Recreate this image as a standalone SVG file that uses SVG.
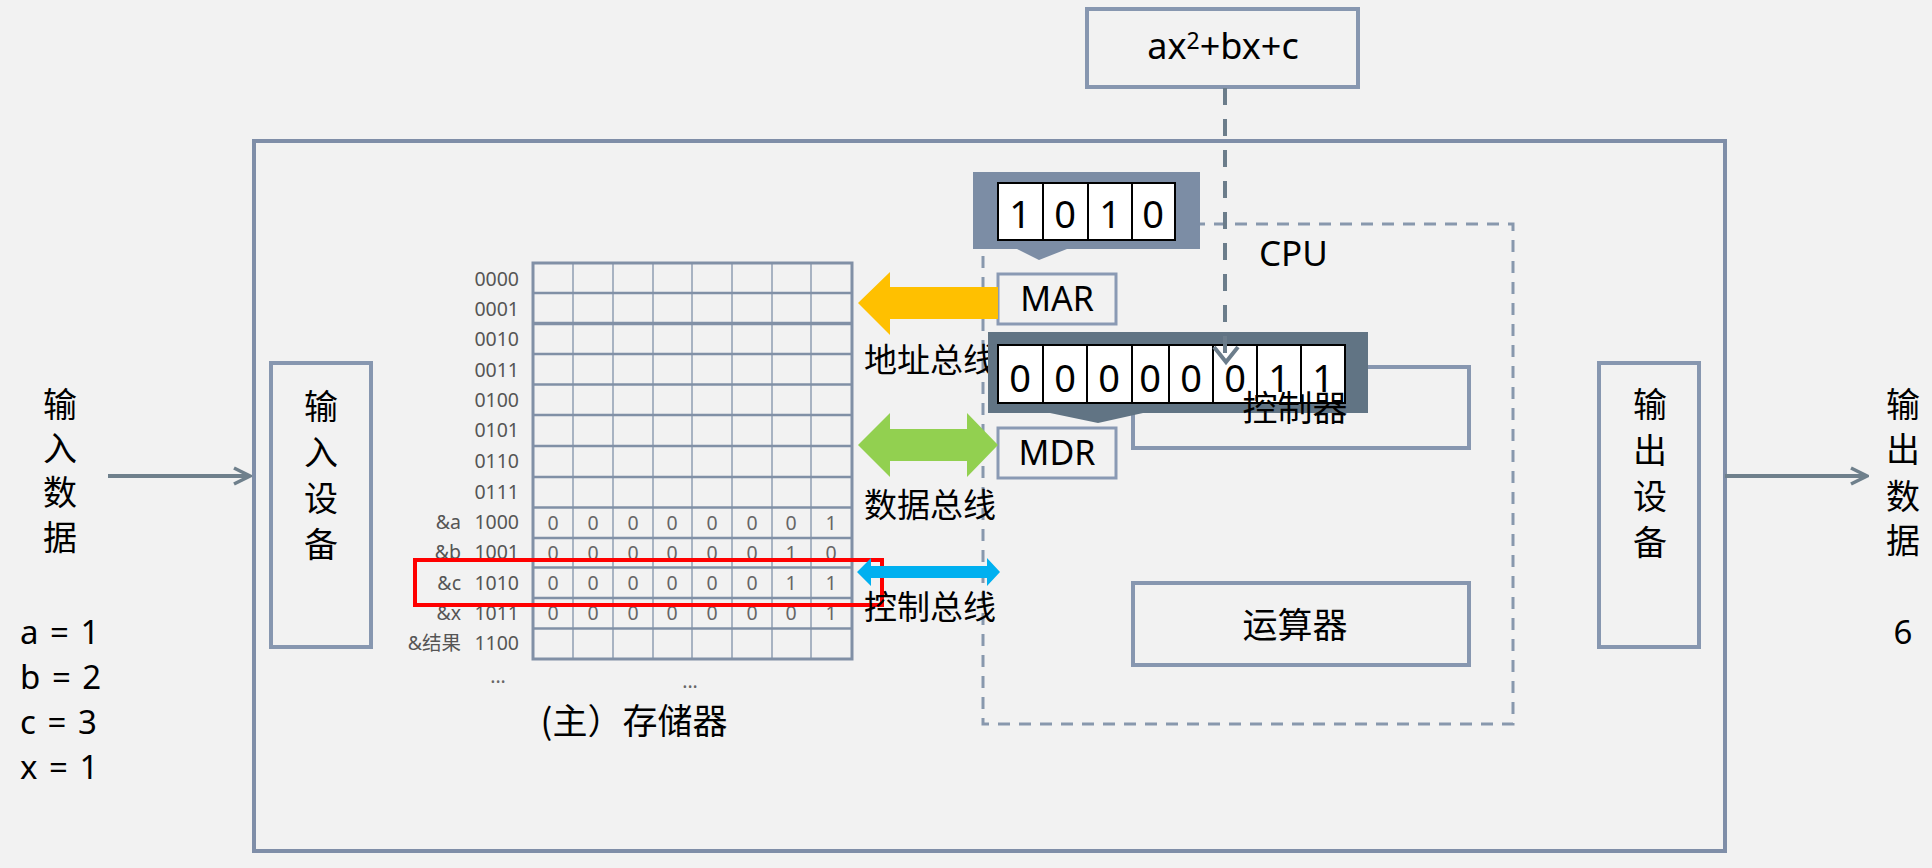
<svg xmlns="http://www.w3.org/2000/svg" width="1932" height="868" viewBox="0 0 1932 868">
<defs>
<style>
.lat{font-family:'Noto Sans','Noto Sans CJK SC',sans-serif;fill:#000}
.cjk{font-family:'Noto Sans CJK SC','Noto Sans',sans-serif;fill:#000}
.addr{font-family:'Noto Sans','Noto Sans CJK SC',sans-serif;font-size:19.5px;fill:#555;text-anchor:end}
.val{font-family:'Noto Sans',sans-serif;font-size:19.5px;fill:#666;text-anchor:middle}
.box{fill:none;stroke:#8797b0;stroke-width:4}
.sbox{fill:none;stroke:#8a9ab4;stroke-width:3}
.cell{fill:#fff;stroke:#000;stroke-width:2}
.celltxt{font-family:'Noto Sans',sans-serif;font-size:38px;fill:#000;text-anchor:middle}
.gh{stroke:#8190a6;stroke-width:2.5}
.gv{stroke:#a8b3c2;stroke-width:2}
.flow{stroke:#6f808c;stroke-width:4;fill:none}
</style>
<marker id="chev" viewBox="0 0 20 20" refX="18" refY="10" markerWidth="5" markerHeight="5" orient="auto" markerUnits="strokeWidth">
<path d="M2,2 L18,10 L2,18" fill="none" stroke="#6f808c" stroke-width="3.5"/>
</marker>
</defs>
<rect x="0" y="0" width="1932" height="868" fill="#f2f2f2"/>

<g id="computer">
<rect x="254" y="141" width="1471" height="710" fill="none" stroke="#7f8ea8" stroke-width="4"/>
</g>

<g id="input-device">
<rect x="271" y="363" width="100" height="284" class="box"/>
<text class="cjk" font-size="34" text-anchor="middle"><tspan x="321" y="419">输</tspan><tspan x="321" y="465">入</tspan><tspan x="321" y="511">设</tspan><tspan x="321" y="557">备</tspan></text>
</g>

<g id="output-device">
<rect x="1599" y="363" width="100" height="284" class="box"/>
<text class="cjk" font-size="34" text-anchor="middle"><tspan x="1650" y="417">输</tspan><tspan x="1650" y="463">出</tspan><tspan x="1650" y="509">设</tspan><tspan x="1650" y="555">备</tspan></text>
</g>

<g id="input-data">
<text class="cjk" font-size="34" text-anchor="middle"><tspan x="60" y="417">输</tspan><tspan x="60" y="461">入</tspan><tspan x="60" y="505">数</tspan><tspan x="60" y="550">据</tspan></text>
<text class="lat" font-size="33" word-spacing="3"><tspan x="20" y="644">a = 1</tspan><tspan x="20" y="689">b = 2</tspan><tspan x="20" y="734">c = 3</tspan><tspan x="20" y="779">x = 1</tspan></text>
</g>

<g id="output-data">
<text class="cjk" font-size="34" text-anchor="middle"><tspan x="1903" y="417">输</tspan><tspan x="1903" y="462">出</tspan><tspan x="1903" y="509">数</tspan><tspan x="1903" y="553">据</tspan></text>
<text class="lat" font-size="33" text-anchor="middle" x="1903" y="644">6</text>
</g>

<g id="memory">
<g class="gv">
<line x1="573" y1="263" x2="573" y2="659"/><line x1="613" y1="263" x2="613" y2="659"/><line x1="653" y1="263" x2="653" y2="659"/><line x1="692" y1="263" x2="692" y2="659"/><line x1="732" y1="263" x2="732" y2="659"/><line x1="772" y1="263" x2="772" y2="659"/><line x1="811" y1="263" x2="811" y2="659"/>
</g>
<g class="gh">
<line x1="533" y1="293" x2="852" y2="293"/><line x1="533" y1="323.5" x2="852" y2="323.5" stroke-width="3.5"/><line x1="533" y1="354" x2="852" y2="354"/><line x1="533" y1="384.5" x2="852" y2="384.5"/><line x1="533" y1="415" x2="852" y2="415"/><line x1="533" y1="446" x2="852" y2="446"/><line x1="533" y1="477" x2="852" y2="477"/><line x1="533" y1="507.5" x2="852" y2="507.5"/><line x1="533" y1="538" x2="852" y2="538"/><line x1="533" y1="567.5" x2="852" y2="567.5"/><line x1="533" y1="598" x2="852" y2="598"/><line x1="533" y1="628.5" x2="852" y2="628.5"/>
</g>
<rect x="533" y="263" width="319" height="396" fill="none" stroke="#8190a6" stroke-width="3"/>
<g class="addr">
<text x="519" y="286">0000</text><text x="519" y="316">0001</text><text x="519" y="346">0010</text><text x="519" y="377">0011</text><text x="519" y="407">0100</text><text x="519" y="437">0101</text><text x="519" y="468">0110</text><text x="519" y="499">0111</text><text x="519" y="529">1000</text><text x="519" y="559">1001</text><text x="519" y="590">1010</text><text x="519" y="620">1011</text><text x="519" y="650">1100</text>
<text x="461" y="529">&amp;a</text><text x="461" y="559">&amp;b</text><text x="461" y="590">&amp;c</text><text x="461" y="620">&amp;x</text><text x="461" y="650">&amp;结果</text>
</g>
<g class="val">
<text y="530"><tspan x="553">0</tspan><tspan x="593">0</tspan><tspan x="633">0</tspan><tspan x="672">0</tspan><tspan x="712">0</tspan><tspan x="752">0</tspan><tspan x="791">0</tspan><tspan x="831">1</tspan></text>
<text y="560"><tspan x="553">0</tspan><tspan x="593">0</tspan><tspan x="633">0</tspan><tspan x="672">0</tspan><tspan x="712">0</tspan><tspan x="752">0</tspan><tspan x="791">1</tspan><tspan x="831">0</tspan></text>
<text y="590"><tspan x="553">0</tspan><tspan x="593">0</tspan><tspan x="633">0</tspan><tspan x="672">0</tspan><tspan x="712">0</tspan><tspan x="752">0</tspan><tspan x="791">1</tspan><tspan x="831">1</tspan></text>
<text y="620"><tspan x="553">0</tspan><tspan x="593">0</tspan><tspan x="633">0</tspan><tspan x="672">0</tspan><tspan x="712">0</tspan><tspan x="752">0</tspan><tspan x="791">0</tspan><tspan x="831">1</tspan></text>
</g>
<text class="val" x="498" y="683">...</text>
<text class="val" x="690" y="688">...</text>
<text class="cjk" font-size="35" text-anchor="middle" x="634" y="734">(主）存储器</text>
<rect x="415" y="560" width="467" height="45" fill="none" stroke="#ff0000" stroke-width="4"/>
</g>

<g id="cpu">
<rect x="983" y="224" width="530" height="500" fill="none" stroke="#8898ad" stroke-width="3" stroke-dasharray="12 9"/>
<text class="lat" font-size="35" x="1259" y="266">CPU</text>
</g>

<g id="formula">
<rect x="1087" y="9" width="271" height="78" class="box"/>
<text class="lat" font-size="36" text-anchor="middle" x="1223" y="59">ax<tspan font-size="23" dy="-10">2</tspan><tspan dy="10">+bx+c</tspan></text>
</g>

<g id="mar">
<rect x="998" y="274" width="118" height="50" class="sbox"/>
<text class="lat" font-size="34" text-anchor="middle" x="1057" y="311">MAR</text>
</g>

<g id="mdr">
<rect x="998" y="428" width="118" height="50" class="sbox"/>
<text class="lat" font-size="34" text-anchor="middle" x="1057" y="465">MDR</text>
</g>

<g id="alu">
<rect x="1133" y="583" width="336" height="82" class="box"/>
<text class="cjk" font-size="35" text-anchor="middle" x="1295" y="638">运算器</text>
</g>

<g id="controller">
<rect x="1133" y="367" width="336" height="81" class="box"/>
</g>

<g id="connectors">
<line x1="108" y1="476" x2="250" y2="476" class="flow" marker-end="url(#chev)"/>
<line x1="1725" y1="476" x2="1867" y2="476" class="flow" marker-end="url(#chev)"/>
<polygon points="858,303 890,272 890,287 998,287 998,319 890,319 890,335" fill="#ffc000"/>
<polygon points="858,445 890,413 890,429 967,429 967,413 998,445 967,477 967,461 890,461 890,477" fill="#92d050"/>
<polygon points="857,572 871,558 871,566 987,566 987,558 1000,572 987,586 987,578 871,578 871,586" fill="#00b0f0"/>
</g>

<g id="bus-labels">
<text class="cjk" font-size="33" x="864" y="372">地址总线</text>
<text class="cjk" font-size="33" x="864" y="517">数据总线</text>
<text class="cjk" font-size="33" x="864" y="619">控制总线</text>
</g>

<g id="mar-value">
<path d="M973,172 H1200 V249 H1067 L1039,260 L1017,249 H973 Z" fill="#7c8da5"/>
<rect x="998" y="183" width="45" height="57" class="cell"/><rect x="1043" y="183" width="45" height="57" class="cell"/><rect x="1088" y="183" width="44" height="57" class="cell"/><rect x="1132" y="183" width="43" height="57" class="cell"/>
<text class="celltxt" y="228"><tspan x="1020">1</tspan><tspan x="1065">0</tspan><tspan x="1110">1</tspan><tspan x="1153">0</tspan></text>
</g>

<g id="mdr-value">
<path d="M988,332 H1368 V413 H1143 L1098,423 L1050,413 H988 Z" fill="#617484"/>
<rect x="998" y="345" width="45" height="58" class="cell"/><rect x="1043" y="345" width="44" height="58" class="cell"/><rect x="1087" y="345" width="45" height="58" class="cell"/><rect x="1132" y="345" width="37" height="58" class="cell"/><rect x="1169" y="345" width="44" height="58" class="cell"/><rect x="1213" y="345" width="44" height="58" class="cell"/><rect x="1257" y="345" width="44" height="58" class="cell"/><rect x="1301" y="345" width="44" height="58" class="cell"/>
<text class="celltxt" y="392"><tspan x="1020">0</tspan><tspan x="1065">0</tspan><tspan x="1109">0</tspan><tspan x="1150">0</tspan><tspan x="1191">0</tspan><tspan x="1235">0</tspan><tspan x="1279">1</tspan><tspan x="1323">1</tspan></text>
</g>

<g id="controller-label">
<text class="cjk" font-size="35" text-anchor="middle" x="1295" y="421">控制器</text>
</g>

<g id="load-arrow">
<line x1="1225" y1="88" x2="1225" y2="358" stroke="#6c7d8b" stroke-width="4" stroke-dasharray="17 14"/>
<path d="M1214,347 L1226,362 L1238,347" fill="none" stroke="#6c7d8b" stroke-width="4"/>
</g>
</svg>
